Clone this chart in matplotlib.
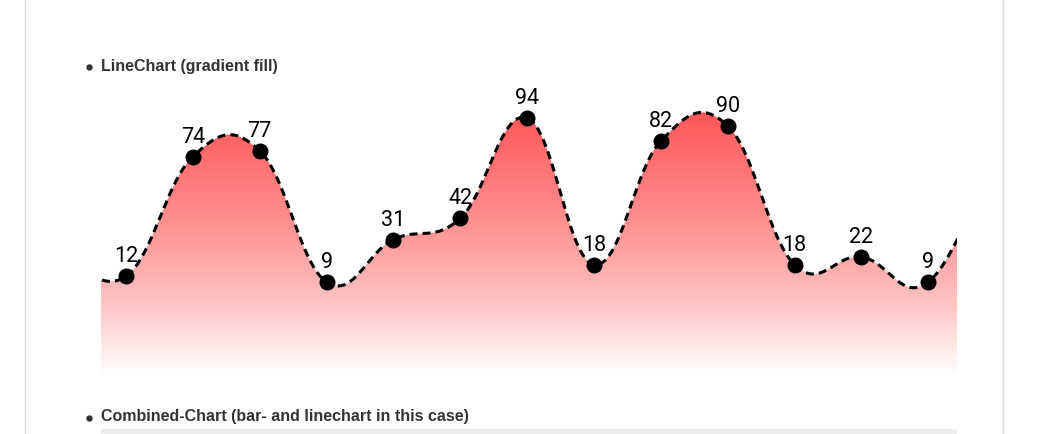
import numpy as np
import matplotlib.pyplot as plt
from matplotlib.lines import Line2D
from matplotlib.patches import PathPatch, Rectangle
from matplotlib.path import Path

W, H = 1048, 434

# ---------------- data ----------------
values = [12, 74, 77, 9, 31, 42, 94, 18, 82, 90, 18, 22, 9]
edge_before = 25   # point cut off at the left edge (no label visible)
edge_after = 76    # point cut off at the right edge (no label visible)
title_top = 'LineChart (gradient fill)'
title_next = 'Combined-Chart (bar- and linechart in this case)'

# ---------------- layout (pixels) ----------------
x_left, x_right = 101, 957
y_top, y_bot = 80, 375
step_px = 66.85        # distance between points
first_px = 126         # first visible point
unit_px = 1.93         # px per value unit
zero_px = 299.4        # y pixel of value 0

fig = plt.figure(figsize=(W / 100, H / 100), dpi=100)
fig.patch.set_facecolor('white')

# page borders
fig.add_artist(Line2D([24.5 / W] * 2, [0, 1], color='#dcdcdc', lw=1))
fig.add_artist(Line2D([1002.5 / W] * 2, [0, 1], color='#dcdcdc', lw=1))

# headings with bullets
for txt, ypx in [(title_top, 66), (title_next, 417)]:
    fig.text(x_left / W, 1 - ypx / H, txt, ha='left', va='center',
             fontsize=11.5, fontweight='bold', color='#333333',
             family='Liberation Sans')
    fig.add_artist(Line2D([89 / W], [1 - (ypx + 1) / H], marker='o', ms=3.6,
                          color='#333333', lw=0))
# start of next chart (grey strip)
fig.add_artist(Rectangle((x_left / W, 0), (x_right - x_left) / W, 5 / H,
                         color='#eeeeee', transform=fig.transFigure, lw=0))

ax = fig.add_axes([x_left / W, 1 - y_bot / H, (x_right - x_left) / W, (y_bot - y_top) / H])
ax.set_xlim((x_left - first_px) / step_px, (x_right - first_px) / step_px)
ax.set_ylim(-(y_bot - zero_px) / unit_px, (zero_px - y_top) / unit_px)
ax.axis('off')

# ---------------- smooth curve (cardinal spline through the points) ----------------
ys = np.array([edge_before] + values + [edge_after], float)
xs = np.arange(-1, len(values) + 1, dtype=float)
n = len(xs)
k = 0.2
cp1, cp2 = [], []
for i in range(n):
    a = max(i - 1, 0)
    b = min(i + 1, n - 1)
    dx, dy = xs[b] - xs[a], ys[b] - ys[a]
    cp1.append((xs[i] - k * dx, ys[i] - k * dy))
    cp2.append((xs[i] + k * dx, ys[i] + k * dy))

cx, cy = [], []
u = np.linspace(0, 1, 40)
for i in range(n - 1):
    p0 = np.array([xs[i], ys[i]])
    p1 = np.array(cp2[i])
    p2 = np.array(cp1[i + 1])
    p3 = np.array([xs[i + 1], ys[i + 1]])
    seg = ((1 - u) ** 3)[:, None] * p0 + (3 * (1 - u) ** 2 * u)[:, None] * p1 \
        + (3 * (1 - u) * u ** 2)[:, None] * p2 + (u ** 3)[:, None] * p3
    cx.extend(seg[:, 0])
    cy.extend(seg[:, 1])
cx = np.array(cx)
cy = np.array(cy)

# ---------------- gradient fill ----------------
ylo, yhi = ax.get_ylim()
xlo, xhi = ax.get_xlim()
rows = np.arange(y_top, y_bot + 1)
g = np.interp(rows, [80, 115, 130, 215, 305, 375], [82, 88, 96, 140, 196, 255]) / 255
img = np.zeros((len(rows), 1, 3))
img[:, 0, 0] = 1.0
img[:, 0, 1] = g
img[:, 0, 2] = g
im = ax.imshow(img, extent=(xlo, xhi, ylo, yhi), origin='upper',
               aspect='auto', interpolation='bilinear', zorder=1)
verts = list(zip(cx, cy)) + [(cx[-1], ylo - 5), (cx[0], ylo - 5)]
clip = PathPatch(Path(verts), transform=ax.transData, facecolor='none', edgecolor='none')
ax.add_patch(clip)
im.set_clip_path(clip)

# ---------------- line, points, labels ----------------
lw = 2.2
ax.plot(cx, cy, color='black', lw=lw, dashes=(8 * 0.72 / lw, 5 * 0.72 / lw),
        zorder=3, dash_capstyle='butt')
vx = np.arange(len(values))
ax.plot(vx, values, 'o', color='black', ms=10.5, zorder=4)
for x, v in zip(vx, values):
    ax.annotate(str(v), (x, v), xytext=(0, 14), textcoords='offset points',
                ha='center', va='center', fontsize=15.5, family='Roboto',
                color='black', zorder=5)

fig.savefig('out.png', dpi=100)
